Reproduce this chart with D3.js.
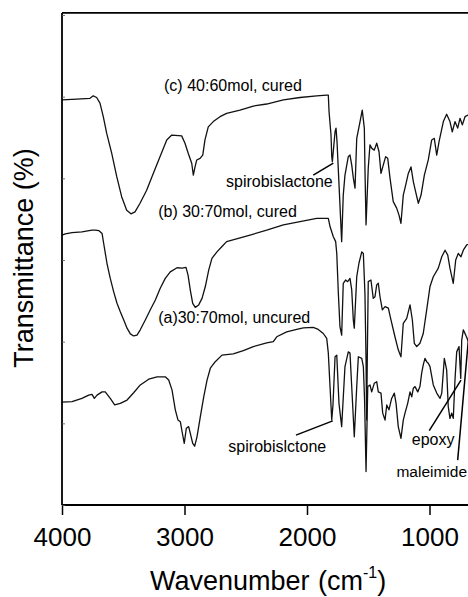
<!DOCTYPE html>
<html><head><meta charset="utf-8">
<script src="https://cdn.jsdelivr.net/npm/d3@7"></script>
<style>html,body{margin:0;padding:0;background:#fff;}svg{display:block;}text{font-family:"Liberation Sans",Arial,sans-serif;fill:#000;}</style>
</head><body>
<script>
// Wavenumber (cm-1) ticks
const xTicks = [4000, 3000, 2000, 1000];
const yTicks = [0, 20, 40, 60, 80, 100, 120];

// (c) 40:60mol, cured  — [wavenumber, transmittance (a.u.)]
const curveC = [
[4000,99.2],[3880,99.4],[3771,99.6],[3745,100.2],[3717,99.8],[3690,98.4],[3663,95.1],[3635,91.0],[3594,86.1],[3553,80.4],
[3513,75.5],[3472,72.2],[3437,71.3],[3404,71.8],[3363,73.9],[3309,77.1],[3255,81.2],[3200,85.3],[3145,89.4],[3104,90.6],
[3023,90.4],[2996,88.6],[2969,86.1],[2941,83.7],[2928,80.8],[2914,82.8],[2900,84.5],[2873,84.9],[2851,85.7],[2833,89.4],
[2806,92.6],[2765,93.9],[2710,95.1],[2656,95.9],[2547,96.7],[2438,97.7],[2329,98.2],[2193,99.2],[2057,99.8],[1921,100.2],
[1839,100.4],[1826,100.4],[1820,96.3],[1804,90.6],[1798,85.3],[1793,84.1],[1771,91.4],[1763,92.3],[1755,89.0],[1717,64.5],
[1704,75.9],[1690,80.8],[1663,85.3],[1649,85.7],[1635,83.3],[1622,80.1],[1608,77.6],[1594,89.8],[1567,93.9],[1549,96.7],
[1532,92.3],[1527,82.5],[1518,68.6],[1500,82.5],[1486,88.2],[1472,87.4],[1451,86.9],[1431,88.6],[1412,86.5],[1396,81.2],
[1377,83.3],[1358,85.3],[1341,84.9],[1322,80.0],[1296,74.3],[1268,72.7],[1249,71.0],[1233,69.0],[1214,75.9],[1194,78.4],
[1173,81.2],[1151,82.8],[1132,79.2],[1113,76.7],[1091,73.9],[1069,75.9],[1042,80.8],[1010,84.5],[982,89.4],[961,89.8],
[941,85.7],[922,89.0],[887,93.9],[860,95.7],[833,93.9],[814,91.4],[792,93.9],[770,92.3],[751,94.7],[732,93.1],
[710,95.1],[686,95.5],[653,96.2]
];

// (b) 30:70mol, cured
const curveB = [
[4000,66.1],[3973,66.4],[3918,66.7],[3837,66.9],[3755,67.3],[3728,67.3],[3700,67.2],[3673,66.5],[3660,64.1],[3633,59.2],
[3606,55.5],[3578,52.2],[3551,49.4],[3524,47.3],[3496,45.3],[3469,43.3],[3442,41.9],[3415,41.4],[3388,41.6],[3361,42.9],
[3320,45.3],[3279,47.8],[3238,50.2],[3198,53.1],[3157,55.5],[3116,57.1],[3061,58.1],[3020,58.0],[2988,58.2],[2971,56.3],
[2953,52.7],[2933,49.4],[2912,48.4],[2884,49.0],[2857,50.6],[2830,53.5],[2802,57.6],[2776,60.4],[2735,62.0],[2694,63.3],
[2656,64.5],[2465,66.1],[2329,67.3],[2193,68.6],[2057,69.4],[1921,70.2],[1826,70.2],[1812,68.2],[1785,65.7],[1766,64.5],
[1757,61.6],[1744,51.8],[1731,43.7],[1717,41.6],[1704,54.3],[1684,55.1],[1668,54.7],[1649,55.5],[1635,52.7],[1622,45.3],
[1614,43.3],[1594,55.9],[1576,59.2],[1553,62.0],[1540,61.6],[1527,51.8],[1518,35.5],[1513,20.8],[1508,35.5],[1500,54.7],
[1478,55.1],[1459,50.6],[1445,51.0],[1431,53.9],[1418,54.3],[1404,51.0],[1385,47.8],[1363,48.6],[1336,48.2],[1314,45.3],
[1282,41.2],[1255,38.0],[1233,36.3],[1214,44.5],[1186,45.7],[1159,49.0],[1140,45.3],[1124,39.6],[1104,38.8],[1078,39.6],
[1051,42.0],[1023,47.8],[996,53.5],[969,55.9],[928,58.0],[900,60.8],[873,62.4],[851,61.2],[833,58.0],[806,54.3],
[786,60.0],[765,61.6],[743,60.8],[724,62.4],[696,63.7],[653,64.2]
];

// (a) 30:70mol, uncured
const curveA = [
[4000,25.2],[3918,25.3],[3837,26.1],[3782,26.9],[3755,27.1],[3736,26.1],[3714,26.9],[3673,27.7],[3647,27.7],[3606,26.1],
[3570,24.5],[3524,24.9],[3469,25.7],[3415,27.5],[3361,29.4],[3292,30.8],[3224,31.4],[3157,31.4],[3129,30.6],[3102,28.2],
[3075,23.3],[3053,20.8],[3034,20.4],[3020,18.0],[3002,15.1],[2985,18.8],[2966,19.2],[2953,17.6],[2933,15.1],[2917,14.4],
[2898,16.7],[2871,21.6],[2843,26.5],[2816,30.6],[2789,33.5],[2749,35.1],[2694,36.7],[2602,37.0],[2520,37.8],[2438,38.8],
[2329,39.7],[2275,40.0],[2247,41.2],[2166,42.4],[2084,43.0],[2030,43.4],[1949,43.5],[1908,43.0],[1867,42.0],[1839,40.8],
[1826,37.2],[1812,29.0],[1798,20.8],[1788,24.5],[1771,36.3],[1757,36.7],[1739,24.9],[1717,19.2],[1690,33.9],[1663,37.5],
[1649,37.2],[1635,29.0],[1614,16.7],[1594,29.0],[1581,36.3],[1553,35.9],[1540,33.9],[1530,25.7],[1518,8.2],[1504,29.0],
[1486,29.4],[1472,27.7],[1451,29.8],[1431,30.2],[1418,27.7],[1396,27.4],[1382,22.5],[1363,20.8],[1349,24.5],[1331,23.3],
[1309,26.1],[1287,27.4],[1273,24.9],[1255,19.2],[1233,16.3],[1214,20.8],[1200,22.5],[1178,24.9],[1159,27.7],[1145,26.5],
[1132,28.6],[1118,29.0],[1096,27.7],[1078,29.0],[1064,32.3],[1051,34.3],[1037,35.9],[1023,35.1],[1010,34.7],[996,33.9],
[969,29.4],[941,27.4],[914,26.1],[900,27.4],[879,35.9],[860,33.1],[847,24.1],[833,21.2],[819,22.5],[806,21.2],
[792,30.6],[778,37.5],[759,38.8],[745,31.0],[737,40.4],[724,42.9],[704,41.6],[688,40.4],[653,38.0]
];

// Annotations: [text, wavenumber, value, font size]
const curveLabels = [
  ["(c) 40:60mol, cured", 3167, 101.5, 16],
  ["(b) 30:70mol, cured", 3215, 70.6, 16],
  ["(a)30:70mol, uncured", 3215, 44.6, 16]
];
const peakLabels = [
  ["spirobislactone", 2661, 78.0, 16],
  ["spirobislctone", 2642, 13.1, 16],
  ["epoxy", 1145, 14.7, 16],
  ["maleimide", 1270, 6.8, 15.5]
];
// leader lines: [from wn, from val, to wn, to val]
const leaders = [
  [1949, 80.8, 1785, 83.7],
  [2090, 17.1, 1790, 20.6],
  [1002, 18.2, 743, 30.6],
  [770, 11.0, 678, 42.0]
];

const W = 468, H = 597;
const x = d3.scaleLinear().domain([4000, 400]).range([62, 503]);
const y = d3.scaleLinear().domain([0, 120]).range([505, 15]);

const svg = d3.select("body").append("svg").attr("width", W).attr("height", H);

// curves
const line = d3.line().x(d => x(d[0])).y(d => y(d[1]));
[curveC, curveB, curveA].forEach(c => {
  svg.append("path").attr("d", line(c)).attr("fill", "none")
    .attr("stroke", "#111").attr("stroke-width", 1.3).attr("stroke-linejoin", "round");
});

// frame
svg.append("line").attr("x1", x(4000)).attr("x2", W + 5).attr("y1", y(120.5)).attr("y2", y(120.5))
  .attr("stroke", "#000").attr("stroke-width", 1.8);

// x axis
const xAxis = svg.append("g").attr("transform", `translate(0,${y(0)})`)
  .call(d3.axisBottom(x).tickValues(xTicks).tickSize(10).tickSizeOuter(0).tickPadding(5).tickFormat(d3.format("d")));
xAxis.select(".domain").attr("stroke-width", 1.8).attr("d", `M${x(4000)},0H${W + 5}`);
xAxis.selectAll(".tick line").attr("stroke-width", 1.5);
xAxis.selectAll("text").attr("font-size", 26).attr("font-family", '"Liberation Sans",Arial,sans-serif').attr("dy", "1.0em");

// y axis (inward ticks, no labels)
const yAxis = svg.append("g").attr("transform", `translate(${x(4000)},0)`)
  .call(d3.axisRight(y).tickValues(yTicks).tickSize(3).tickSizeOuter(0).tickFormat(""));
yAxis.select(".domain").attr("stroke-width", 1.8).attr("d", `M0,${y(120.5)}V${y(0)}`);
yAxis.selectAll(".tick line").attr("stroke-width", 0.8).attr("stroke", "#555");

// axis titles
svg.append("text").attr("transform", "translate(33,258) rotate(-90)")
  .attr("text-anchor", "middle").attr("font-size", 27).text("Transmittance (%)");
const xt = svg.append("text").attr("y", 590).attr("font-size", 27);
xt.append("tspan").attr("x", 150).text("Wavenumber");
xt.append("tspan").attr("x", 318).text("(cm");
xt.append("tspan").attr("font-size", 16).attr("dy", -12).text("-1");
xt.append("tspan").attr("dy", 12).text(")");

// curve labels
curveLabels.concat(peakLabels).forEach(l => {
  svg.append("text").attr("x", x(l[1])).attr("y", y(l[2])).attr("font-size", l[3]).text(l[0]);
});
leaders.forEach(l => {
  svg.append("line").attr("x1", x(l[0])).attr("y1", y(l[1])).attr("x2", x(l[2])).attr("y2", y(l[3]))
    .attr("stroke", "#000").attr("stroke-width", 1.5);
});
</script>
</body></html>
